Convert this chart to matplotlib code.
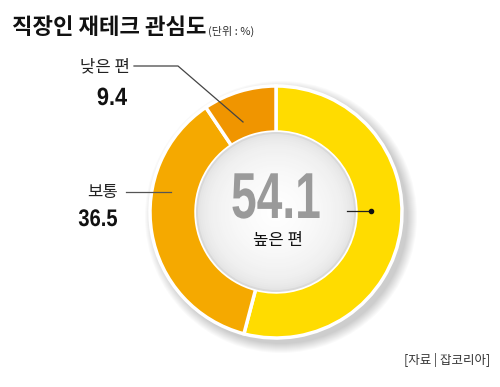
import numpy as np
import matplotlib
matplotlib.use("Agg")
import matplotlib.pyplot as plt
from matplotlib.patches import Circle, PathPatch
from matplotlib.textpath import TextPath
from matplotlib.font_manager import FontProperties
from matplotlib.transforms import Affine2D

plt.rcParams['font.family'] = ['Noto Sans CJK KR', 'DejaVu Sans']

# ---- data ----
labels = ["높은 편", "보통", "낮은 편"]
values = [54.1, 36.5, 9.4]
colors = ["#FFDC00", "#F5A900", "#F09500"]
title = "직장인 재테크 관심도"
unit = "(단위 : %)"
source = "[자료 | 잡코리아]"

W, H = 500, 387
fig = plt.figure(figsize=(W / 100, H / 100), dpi=100)
ax = fig.add_axes([0, 0, 1, 1])
ax.set_xlim(0, W); ax.set_ylim(0, H); ax.set_aspect("equal"); ax.axis("off")

num_fp = FontProperties(family="Liberation Sans", weight="bold")


def narrow_num(s, x, y, size, sx, color, ha="right", zorder=6):
    """condensed bold number; x = anchor (right or centre), y = baseline"""
    tp = TextPath((0, 0), s, size=size, prop=num_fp)
    ext = tp.get_extents()
    w = ext.width * sx
    x0 = x - w if ha == "right" else x - w / 2
    tr = Affine2D().translate(-ext.x0, 0).scale(sx, 1).translate(x0, y) + ax.transData
    ax.add_patch(PathPatch(tp, transform=tr, color=color, lw=0, zorder=zorder))


cx, cy, R, ring = 276, 175, 126, 46

# soft shadow around the ring (right / bottom)
for i in range(10):
    r = R + 10 - i
    ax.add_patch(Circle((cx + 5, cy - 5), r, color="#000000", alpha=0.02, lw=0, zorder=1))

ax.pie(values, colors=colors, startangle=90, counterclock=False,
       center=(cx, cy), radius=R, frame=True,
       wedgeprops=dict(width=ring, edgecolor="white", linewidth=2.5))
ax.set_xlim(0, W); ax.set_ylim(0, H); ax.axis("off")

# inner disk with light radial gradient (gray rim, white centre)
ri = R - ring
for i in range(40):
    r = ri * (1 - i / 40)
    g = 0.85 + 0.15 * (i / 39) ** 0.3
    ax.add_patch(Circle((cx, cy), r, color=(g, g, g), lw=0, zorder=3))

# centre value
narrow_num(f"{values[0]}", cx, H - 218, 65, 0.71, "#9a9a9a", ha="center", zorder=5)
ax.text(cx + 2, H - 241, labels[0], ha="center", va="center", fontsize=12, color="#111111",
        zorder=5)
ax.plot([347, 371], [H - 211, H - 211], color="#222222", lw=0.9, zorder=6)
ax.plot([371], [H - 211], "o", color="#111111", ms=3, zorder=6)

# 낮은 편 label
ax.text(130, H - 67, labels[2], ha="right", va="center", fontsize=12, color="#222222")
narrow_num(f"{values[2]}", 127, H - 105, 25, 0.87, "#111111")
ax.plot([134, 178, 243], [H - 66, H - 66, H - 122], color="#444444", lw=0.9, zorder=6)

# 보통 label
ax.text(118, H - 192, labels[1], ha="right", va="center", fontsize=12, color="#222222")
narrow_num(f"{values[1]}", 117, H - 226, 24, 0.84, "#111111")
ax.plot([126, 171], [H - 192, H - 192], color="#555555", lw=0.9, zorder=6)

# title and source
ax.text(12, H - 28, title, ha="left", va="center", fontsize=16, fontweight="bold", color="#111111")
ax.text(208, H - 31, unit, ha="left", va="center", fontsize=8, color="#333333")
ax.text(490, H - 360, source, ha="right", va="center", fontsize=9, color="#333333")

fig.savefig("out.png", dpi=100)
